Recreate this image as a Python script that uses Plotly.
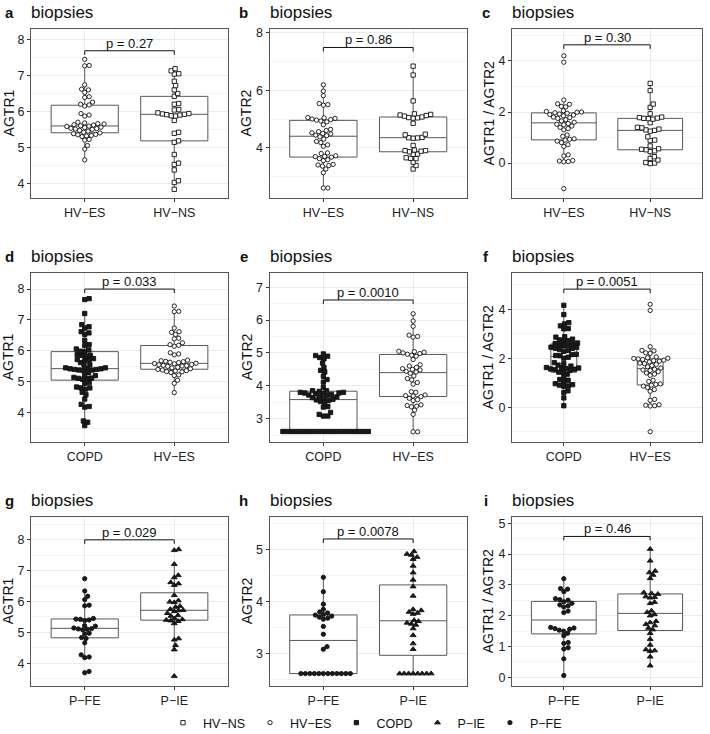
import numpy as np
import plotly.graph_objects as go

# ---- values (one list per group and measure) ----
HV_ES_AGTR1 = [4.65, 4.95, 5.05, 5.2, 5.22, 5.3, 5.32, 5.33, 5.35, 5.36, 5.38, 5.4, 5.42, 5.45,
               5.47, 5.5, 5.51, 5.52, 5.53, 5.55, 5.56, 5.58, 5.59, 5.6, 5.62, 5.63, 5.65, 5.66,
               5.68, 5.7, 5.87, 5.9, 5.94, 6.15, 6.18, 6.2, 6.26, 6.39, 6.41, 6.53, 6.6, 6.62,
               6.74, 7.27, 7.28, 7.45]
HV_NS_AGTR1 = [3.83, 4.02, 4.07, 4.37, 4.52, 4.56, 4.8, 5.14, 5.18, 5.39, 5.42, 5.75, 5.87, 5.88,
               5.9, 5.91, 5.92, 5.93, 5.94, 5.96, 6.04, 6.05, 6.2, 6.22, 6.42, 6.5, 6.6, 6.72,
               6.84, 7.04, 7.05, 7.13, 7.19]
P_FE_AGTR1 = [3.69, 3.73, 4.18, 4.2, 4.27, 4.66, 4.8, 4.83, 4.95, 4.97, 5.08, 5.1, 5.11, 5.12,
              5.14, 5.2, 5.22, 5.38, 5.4, 5.42, 5.43, 5.45, 5.86, 5.88, 6.06, 6.17, 6.34, 6.74]
P_IE_AGTR1 = [3.58, 4.44, 4.58, 4.76, 4.8, 5.29, 5.36, 5.38, 5.4, 5.42, 5.45, 5.53, 5.55, 5.62,
              5.68, 5.71, 5.72, 5.75, 5.82, 5.85, 5.97, 5.99, 6.03, 6.2, 6.53, 6.58, 6.62, 6.78,
              6.85, 7.21, 7.66, 7.69]

HV_ES_AGTR2 = [2.6, 2.6, 3.13, 3.26, 3.36, 3.38, 3.4, 3.42, 3.55, 3.58, 3.62, 3.67, 3.69, 3.7,
               3.72, 3.8, 3.82, 4.05, 4.1, 4.18, 4.22, 4.3, 4.38, 4.42, 4.44, 4.48, 4.5, 4.52,
               4.56, 4.6, 4.64, 4.8, 4.9, 4.93, 4.96, 4.98, 5.0, 5.02, 5.04, 5.05, 5.48, 5.5,
               5.54, 5.81, 5.97, 6.19]
HV_NS_AGTR2 = [3.26, 3.38, 3.5, 3.62, 3.63, 3.65, 3.77, 3.78, 3.86, 3.88, 3.9, 3.9, 3.92, 4.08,
               4.33, 4.34, 4.35, 4.36, 4.45, 4.47, 4.85, 5.03, 5.04, 5.05, 5.07, 5.1, 5.12, 5.14,
               5.16, 5.18, 5.63, 6.53, 6.84]
P_FE_AGTR2 = [2.61, 2.61, 2.61, 2.61, 2.61, 2.61, 2.61, 2.61, 2.61, 2.61, 2.61, 2.61,
              3.08, 3.13, 3.37, 3.52, 3.66, 3.68, 3.7, 3.72, 3.74, 3.75, 3.78, 3.8, 3.85, 3.95,
              4.19, 4.47]
P_IE_AGTR2 = [2.61, 2.61, 2.61, 2.61, 2.61, 2.61, 2.61, 2.61,
              3.08, 3.19, 3.35, 3.48, 3.55, 3.57, 3.59, 3.62, 3.64, 3.76, 3.78, 3.8, 3.83, 3.85,
              4.11, 4.29, 4.42, 4.56, 4.69, 4.82, 4.86, 4.9, 4.92, 4.97]

HV_ES_RATIO = [-1.0, 0.05, 0.06, 0.08, 0.1, 0.28, 0.32, 0.65, 0.72, 0.8, 0.86, 0.9, 0.93, 0.95,
               1.05, 1.1, 1.3, 1.35, 1.4, 1.45, 1.5, 1.52, 1.55, 1.6, 1.65, 1.7, 1.75, 1.78,
               1.8, 1.85, 1.88, 1.9, 1.92, 1.95, 1.97, 1.99, 2.0, 2.02, 2.05, 2.2, 2.22, 2.3,
               2.32, 2.47, 3.95, 4.2]
HV_NS_RATIO = [-0.02, 0.0, 0.02, 0.12, 0.18, 0.25, 0.45, 0.48, 0.52, 0.54, 0.56, 0.67, 0.88,
               0.9, 1.03, 1.25, 1.28, 1.3, 1.33, 1.38, 1.4, 1.58, 1.72, 1.74, 1.75, 1.76, 1.78,
               1.8, 1.93, 2.18, 2.31, 2.84, 3.12]
P_FE_RATIO = [0.06, 0.6, 0.92, 0.96, 1.1, 1.13, 1.35, 1.43, 1.5, 1.53, 1.56, 1.58, 1.6, 1.62,
              2.1, 2.15, 2.28, 2.32, 2.35, 2.4, 2.45, 2.5, 2.52, 2.55, 2.78, 2.86, 2.88, 3.2]
P_IE_RATIO = [0.38, 0.67, 0.85, 0.87, 0.9, 1.05, 1.24, 1.43, 1.55, 1.6, 1.68, 1.72, 1.78, 1.82,
              2.0, 2.04, 2.11, 2.16, 2.4, 2.44, 2.58, 2.6, 2.62, 2.7, 2.72, 2.75, 3.21, 3.32,
              3.4, 3.45, 3.78, 4.16]

# COPD = both exacerbation groups together
COPD_AGTR1 = P_FE_AGTR1 + P_IE_AGTR1
COPD_AGTR2 = P_FE_AGTR2 + P_IE_AGTR2
COPD_RATIO = P_FE_RATIO + P_IE_RATIO

DATA = {
    "HV-ES": {"AGTR1": HV_ES_AGTR1, "AGTR2": HV_ES_AGTR2, "AGTR1 / AGTR2": HV_ES_RATIO},
    "HV-NS": {"AGTR1": HV_NS_AGTR1, "AGTR2": HV_NS_AGTR2, "AGTR1 / AGTR2": HV_NS_RATIO},
    "COPD": {"AGTR1": COPD_AGTR1, "AGTR2": COPD_AGTR2, "AGTR1 / AGTR2": COPD_RATIO},
    "P-FE": {"AGTR1": P_FE_AGTR1, "AGTR2": P_FE_AGTR2, "AGTR1 / AGTR2": P_FE_RATIO},
    "P-IE": {"AGTR1": P_IE_AGTR1, "AGTR2": P_IE_AGTR2, "AGTR1 / AGTR2": P_IE_RATIO},
}

LETTERS = ["a", "b", "c", "d", "e", "f", "g", "h", "i"]
PAIRS = [("HV-ES", "HV-NS")] * 3 + [("COPD", "HV-ES")] * 3 + [("P-FE", "P-IE")] * 3
MEASURES = ["AGTR1", "AGTR2", "AGTR1 / AGTR2"] * 3
P_LABELS = ["p = 0.27", "p = 0.86", "p = 0.30", "p = 0.033", "p = 0.0010", "p = 0.0051",
            "p = 0.029", "p = 0.0078", "p = 0.46"]

# ---- layout settings (pixel positions measured on the 710x734 page) ----
W, H = 710, 734
COL_PX = [(31, 228), (269.5, 467), (512, 702)]
ROW_PX = [(28.5, 198.3), (272.7, 442), (516.7, 686)]
Y_RANGES = [(3.58, 8.31), (2.24, 8.15), (-1.38, 5.27),
            (3.05, 8.53), (2.29, 7.44), (-1.42, 5.49),
            (3.26, 8.75), (2.37, 5.64), (-0.28, 5.21)]
Y_DTICK = [1, 2, 2, 1, 1, 2, 1, 1, 1]
BRACKET_Y = [7.69, 7.49, 4.63, 8.0, 6.61, 4.82, 8.0, 5.21, 4.57]
BOX_W = [0.75, 0.75, 0.75, 0.75, 0.75, 0.3, 0.75, 0.75, 0.75]
YTITLE_X = [9, 246, 489, 8, 247, 488, 8, 247, 488]
LEGEND_Y = 723
X_RANGE = (0.4, 2.6)
DOT_PX = 4.3      # marker diameter
SWARM_PX = 4.5    # min distance between swarm points

STYLE = {  # symbol, fill
    "HV-NS": ("square", "white"),
    "HV-ES": ("circle", "white"),
    "COPD": ("square", "#1a1a1a"),
    "P-IE": ("triangle-up", "#1a1a1a"),
    "P-FE": ("circle", "#1a1a1a"),
}
LEGEND_ORDER = ["HV-NS", "HV-ES", "COPD", "P-IE", "P-FE"]
FONT = "Liberation Sans, Arial, Helvetica, sans-serif"


def fx(p):
    return p / W


def fy(p):
    return 1 - p / H


def swarm(vals, py, d):
    # beeswarm 'swarm' placement in pixel space, points taken in ascending order
    v = np.asarray(vals, float)
    order = np.argsort(v, kind="stable")
    ypx = v * py
    xs = np.zeros(len(v))
    placed = []
    for i in order:
        cands = [0.0]
        near = []
        for j in placed:
            dy = ypx[i] - ypx[j]
            if abs(dy) < d:
                dx = np.sqrt(d * d - dy * dy)
                cands += [xs[j] + dx, xs[j] - dx]
                near.append(j)
        best = None
        for cx in cands:
            ok = all((cx - xs[j]) ** 2 + (ypx[i] - ypx[j]) ** 2 >= d * d - 1e-6 for j in near)
            if ok and (best is None or abs(cx) < abs(best) - 1e-9):
                best = cx
        xs[i] = best
        placed.append(i)
    return xs


def box_stats(vals):
    v = np.asarray(vals, float)
    q1, med, q3 = np.percentile(v, [25, 50, 75])
    iqr = q3 - q1
    lo = v[v >= q1 - 1.5 * iqr].min()
    hi = v[v <= q3 + 1.5 * iqr].max()
    return q1, med, q3, lo, hi


fig = go.Figure()
shown = set()
annotations = []
shapes = []

for k in range(9):
    r, c = divmod(k, 3)
    sfx = "" if k == 0 else str(k + 1)
    xa, ya = "x" + sfx, "y" + sfx
    x0, x1 = COL_PX[c]
    t0, t1 = ROW_PX[r]
    w_px, h_px = x1 - x0, t1 - t0
    ylo, yhi = Y_RANGES[k]
    py = h_px / (yhi - ylo)
    px = w_px / (X_RANGE[1] - X_RANGE[0])

    g1, g2 = PAIRS[k]
    meas = MEASURES[k]

    for pos, g in ((1, g1), (2, g2)):
        vals = DATA[g][meas]
        q1, med, q3, lo, hi = box_stats(vals)
        fig.add_trace(go.Box(
            x=[pos], q1=[q1], median=[med], q3=[q3], lowerfence=[lo], upperfence=[hi],
            width=BOX_W[k], fillcolor="white", line=dict(color="#595959", width=1),
            boxpoints=False, whiskerwidth=0, showlegend=False, hoverinfo="skip",
            xaxis=xa, yaxis=ya))
        offs = swarm(vals, py, SWARM_PX)
        sym, fill = STYLE[g]
        size = DOT_PX * (1.2 if sym == "triangle-up" else 1.0)
        fig.add_trace(go.Scatter(
            x=pos + offs / px, y=vals, mode="markers", name=g.replace("-", "\u2212"),
            legendgroup=g, showlegend=g not in shown,
            legendrank=LEGEND_ORDER.index(g) + 1,
            marker=dict(symbol=sym, size=size, color=fill,
                        line=dict(color="#111111", width=0.9)),
            xaxis=xa, yaxis=ya))
        shown.add(g)

    # axes
    fig.update_layout(**{
        "xaxis" + sfx: dict(
            domain=[fx(x0), fx(x1)], anchor=ya, range=list(X_RANGE),
            tickvals=[1, 2], ticktext=[g1.replace("-", "\u2212"), g2.replace("-", "\u2212")],
            showgrid=True, gridcolor="#EBEBEB", gridwidth=1, zeroline=False,
            showline=True, mirror=True, linecolor="#555555", linewidth=1,
            ticks="outside", ticklen=3, tickcolor="#333333",
            tickfont=dict(size=12.5, color="#222222", family=FONT)),
        "yaxis" + sfx: dict(
            domain=[fy(t1), fy(t0)], anchor=xa, range=[ylo, yhi],
            dtick=Y_DTICK[k], tick0=0,
            showgrid=True, gridcolor="#EBEBEB", gridwidth=1, zeroline=False,
            minor=dict(dtick=Y_DTICK[k] / 2, tick0=0, showgrid=True,
                       gridcolor="#F4F4F4", gridwidth=0.6),
            showline=True, mirror=True, linecolor="#555555", linewidth=1,
            ticks="outside", ticklen=3, tickcolor="#333333",
            tickfont=dict(size=12.5, color="#222222", family=FONT)),
    })

    # significance bracket + p label
    by = BRACKET_Y[k]
    drop = 4 / py
    shapes.append(dict(type="path", xref=xa, yref=ya,
                       path=f"M1,{by - drop} L1,{by} L2,{by} L2,{by - drop}",
                       line=dict(color="#111111", width=1)))
    annotations.append(dict(x=1.5, y=by, xref=xa, yref=ya, text=P_LABELS[k],
                            showarrow=False, yanchor="bottom", yshift=-2,
                            font=dict(size=13, color="#111111", family=FONT)))

    # y title
    annotations.append(dict(x=fx(YTITLE_X[k]), y=fy((t0 + t1) / 2), xref="paper",
                            yref="paper", text=meas, textangle=-90, showarrow=False,
                            xanchor="center", yanchor="middle",
                            font=dict(size=14, color="#111111", family=FONT)))
    # panel letter + title
    ty = fy(t0 - 16)
    annotations.append(dict(x=fx(x0 - 22 if c == 0 else x0 - 26), y=ty, xref="paper",
                            yref="paper", text="<b>" + LETTERS[k] + "</b>",
                            showarrow=False, xanchor="center", yanchor="middle",
                            font=dict(size=15, color="#111111", family=FONT)))
    annotations.append(dict(x=fx(x0), y=ty, xref="paper", yref="paper", text="biopsies",
                            showarrow=False, xanchor="left", yanchor="middle", xshift=-2,
                            font=dict(size=17, color="#111111", family=FONT)))

fig.update_layout(
    width=W, height=H, margin=dict(l=0, r=0, t=0, b=0, autoexpand=False),
    paper_bgcolor="white", plot_bgcolor="white",
    font=dict(family=FONT, size=12, color="#111111"),
    annotations=annotations, shapes=shapes,
    legend=dict(orientation="h", x=fx(365), xanchor="center", y=fy(LEGEND_Y),
                yanchor="middle", font=dict(size=12.5, family=FONT, color="#111111"),
                itemwidth=30, tracegroupgap=0, bgcolor="rgba(0,0,0,0)"),
)

# the page body has a default 8px margin; drop it so the figure fills the window
fig.write_html("out.html", config={"displayModeBar": False},
               post_script="document.body.style.margin = '0px';")
